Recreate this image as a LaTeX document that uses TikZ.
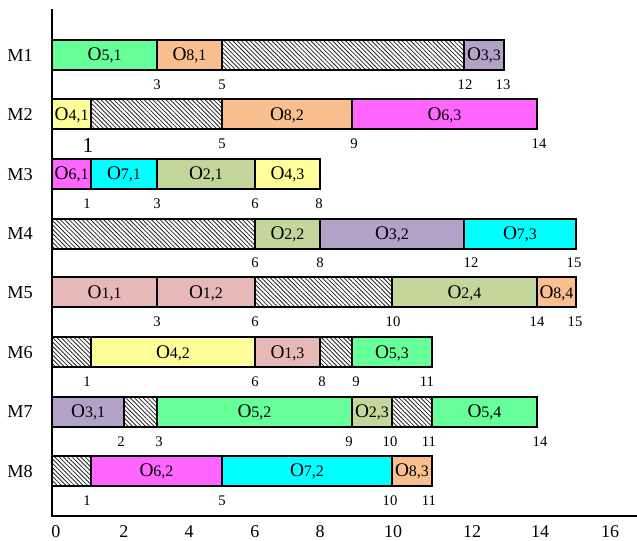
\documentclass[tikz,border=0pt]{standalone}
\usepackage{fontspec}
\setmainfont{Liberation Serif}
\usetikzlibrary{patterns.meta}
\definecolor{cG}{HTML}{66FF99}
\definecolor{cOr}{HTML}{FABF8F}
\definecolor{cPu}{HTML}{B3A2C7}
\definecolor{cYe}{HTML}{FFFF99}
\definecolor{cMa}{HTML}{FF66FF}
\definecolor{cCy}{HTML}{00FFFF}
\definecolor{cOl}{HTML}{C3D69B}
\definecolor{cPk}{HTML}{E6B9B8}
\tikzset{
  segbox/.style={draw=black, line width=1.5pt},
  hatchbox/.style={draw=black, line width=1.5pt, fill=white,
    pattern={Lines[angle=-45, distance=2.3pt, line width=0.6pt]}, pattern color=black!85},
  oplabel/.style={inner sep=0pt, font=\fontsize{14.5}{16}\selectfont},
  numlbl/.style={inner sep=0pt, font=\fontsize{11}{12}\selectfont},
  mlbl/.style={inner sep=0pt, font=\fontsize{13.7}{15}\selectfont},
  axlbl/.style={inner sep=0pt, font=\fontsize{13.5}{15}\selectfont},
  axisline/.style={draw=black, line width=1.5pt},
}
\newcommand\opname[2]{O{\fontsize{12}{13}\selectfont #1,#2}}
% #1 name, #2 top, #3 x1, #4 x2, #5 colour, #6 text
\newcommand\gseg[6]{%
  \path[segbox, fill=#5] (#3,#2) rectangle (#4,{#2+30});
  \node[oplabel] (#1) at ({(#3+#4)/2},{#2+15.5}) {#6};
}
\newcommand\hseg[3]{%
  \path[hatchbox] (#2,#1) rectangle (#3,{#1+30});
}
\begin{document}
\begin{tikzpicture}[x=0.75pt,y=-0.75pt]
\useasboundingbox (0,0) rectangle (637,541);
% x mapping: 0:52.3 1:91 2:124 3:157 5:222 6:255 8:320 9:352 10:392 11:432 12:464 13:504 14:537 15:576
% ---- M1 (top 40)
\gseg{o51}{40}{52.3}{157}{cG}{\opname{5}{1}}
\gseg{o81}{40}{157}{222}{cOr}{\opname{8}{1}}
\hseg{40}{222}{464}
\gseg{o33}{40}{464}{504}{cPu}{\opname{3}{3}}
\node[mlbl] (m1) at (20,55) {M1};
\node[numlbl] (n1a) at (157,84.5) {3};
\node[numlbl] (n1b) at (222,84.5) {5};
\node[numlbl] (n1c) at (465,84.5) {12};
\node[numlbl] (n1d) at (503,84.5) {13};
% ---- M2 (top 99.5)
\gseg{o41}{99.5}{52.3}{91}{cYe}{\opname{4}{1}}
\hseg{99.5}{91}{222}
\gseg{o82}{99.5}{222}{352}{cOr}{\opname{8}{2}}
\gseg{o63}{99.5}{352}{537}{cMa}{\opname{6}{3}}
\node[mlbl] (m2) at (20,114.5) {M2};
\node[inner sep=0pt, font=\fontsize{16}{17}\selectfont] (n2a) at (88,145) {1};
\node[numlbl] (n2b) at (222,144) {5};
\node[numlbl] (n2c) at (354,144) {9};
\node[numlbl] (n2d) at (539,144) {14};
% ---- M3 (top 159.3)
\gseg{o61}{159.3}{52.3}{91}{cMa}{\opname{6}{1}}
\gseg{o71}{159.3}{91}{157}{cCy}{\opname{7}{1}}
\gseg{o21}{159.3}{157}{255}{cOl}{\opname{2}{1}}
\gseg{o43}{159.3}{255}{320}{cYe}{\opname{4}{3}}
\node[mlbl] (m3) at (20,174.3) {M3};
\node[numlbl] (n3a) at (87,203.5) {1};
\node[numlbl] (n3b) at (157,203.5) {3};
\node[numlbl] (n3c) at (255,203.5) {6};
\node[numlbl] (n3d) at (319,203.5) {8};
% ---- M4 (top 218.7)
\hseg{218.7}{52.3}{255}
\gseg{o22}{218.7}{255}{320}{cOl}{\opname{2}{2}}
\gseg{o32}{218.7}{320}{464}{cPu}{\opname{3}{2}}
\gseg{o73}{218.7}{464}{576}{cCy}{\opname{7}{3}}
\node[mlbl] (m4) at (20,233.7) {M4};
\node[numlbl] (n4a) at (255,263) {6};
\node[numlbl] (n4b) at (320,263) {8};
\node[numlbl] (n4c) at (471,263) {12};
\node[numlbl] (n4d) at (574,263) {15};
% ---- M5 (top 277.5)
\gseg{o11}{277.5}{52.3}{157}{cPk}{\opname{1}{1}}
\gseg{o12}{277.5}{157}{255}{cPk}{\opname{1}{2}}
\hseg{277.5}{255}{392}
\gseg{o24}{277.5}{392}{537}{cOl}{\opname{2}{4}}
\gseg{o84}{277.5}{537}{576}{cOr}{\opname{8}{4}}
\node[mlbl] (m5) at (20,292.5) {M5};
\node[numlbl] (n5a) at (157,322) {3};
\node[numlbl] (n5b) at (255,322) {6};
\node[numlbl] (n5c) at (393,322) {10};
\node[numlbl] (n5d) at (537,322) {14};
\node[numlbl] (n5e) at (575,322) {15};
% ---- M6 (top 337.5)
\hseg{337.5}{52.3}{91}
\gseg{o42}{337.5}{91}{255}{cYe}{\opname{4}{2}}
\gseg{o13}{337.5}{255}{320}{cPk}{\opname{1}{3}}
\hseg{337.5}{320}{352}
\gseg{o53}{337.5}{352}{432}{cG}{\opname{5}{3}}
\node[mlbl] (m6) at (20,352.5) {M6};
\node[numlbl] (n6a) at (87,382) {1};
\node[numlbl] (n6b) at (255,382) {6};
\node[numlbl] (n6c) at (322,382) {8};
\node[numlbl] (n6d) at (356,382) {9};
\node[numlbl] (n6e) at (427,382) {11};
% ---- M7 (top 396.7)
\gseg{o31}{396.7}{52.3}{124}{cPu}{\opname{3}{1}}
\hseg{396.7}{124}{157}
\gseg{o52}{396.7}{157}{352}{cG}{\opname{5}{2}}
\gseg{o23}{396.7}{352}{392}{cOl}{\opname{2}{3}}
\hseg{396.7}{392}{432}
\gseg{o54}{396.7}{432}{537}{cG}{\opname{5}{4}}
\node[mlbl] (m7) at (20,411.7) {M7};
\node[numlbl] (n7a) at (121,441.5) {2};
\node[numlbl] (n7b) at (159,441.5) {3};
\node[numlbl] (n7c) at (349,441.5) {9};
\node[numlbl] (n7d) at (390,441.5) {10};
\node[numlbl] (n7e) at (429,441.5) {11};
\node[numlbl] (n7f) at (540,441.5) {14};
% ---- M8 (top 456.3)
\hseg{456.3}{52.3}{91}
\gseg{o62}{456.3}{91}{222}{cMa}{\opname{6}{2}}
\gseg{o72}{456.3}{222}{392}{cCy}{\opname{7}{2}}
\gseg{o83}{456.3}{392}{432}{cOr}{\opname{8}{3}}
\node[mlbl] (m8) at (20,471.3) {M8};
\node[numlbl] (n8a) at (87,501) {1};
\node[numlbl] (n8b) at (222,501) {5};
\node[numlbl] (n8c) at (390,501) {10};
\node[numlbl] (n8d) at (429,501) {11};
% ---- axes
\coordinate (ytop) at (52.3,9);
\coordinate (orig) at (52.3,516);
\coordinate (xend) at (637,516);
\draw[axisline] (ytop) -- (orig) -- (xend);
\node[axlbl] (a0) at (56,532) {0};
\node[axlbl] (a2) at (124,532) {2};
\node[axlbl] (a4) at (189,532) {4};
\node[axlbl] (a6) at (255,532) {6};
\node[axlbl] (a8) at (320,532) {8};
\node[axlbl] (a10) at (393,532) {10};
\node[axlbl] (a12) at (472,532) {12};
\node[axlbl] (a14) at (540,532) {14};
\node[axlbl] (a16) at (610,532) {16};
\end{tikzpicture}
\end{document}
